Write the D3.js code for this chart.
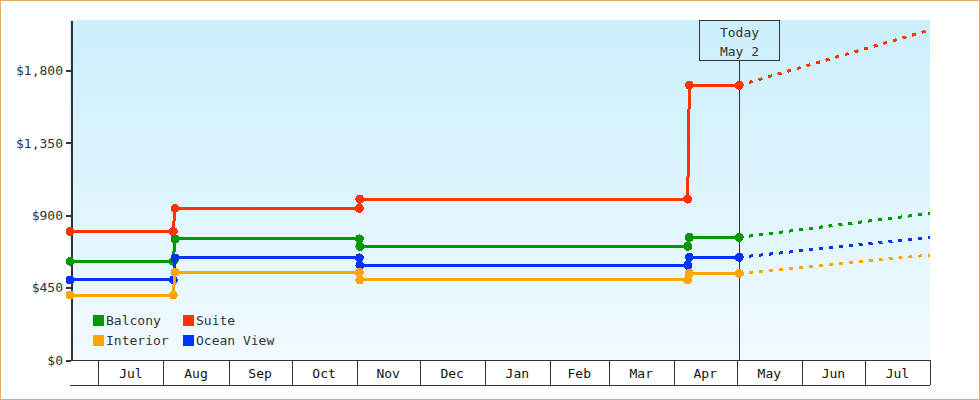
<!DOCTYPE html>
<html>
<head>
<meta charset="utf-8">
<script src="https://cdn.jsdelivr.net/npm/d3@7"></script>
<style>
  body { margin: 0; background: #fff; }
  svg { shape-rendering: crispEdges; }
  svg text { font-family: "DejaVu Sans Mono", monospace; font-size: 13px; }
</style>
</head>
<body>
<div id="chart"></div>
<script>
// price history dates (step changes drawn as two close points)
var dates = ["2022-06-17 12", "2022-08-05 16", "2022-08-06 12", "2022-11-02 06",
             "2022-11-02 13", "2023-04-07 15", "2023-04-08 10", "2023-05-02 04"];
var projectionEnd = "2023-08-01 00";
var today = "2023-05-02 04";

var seriesNames = ["Suite", "Balcony", "Ocean View", "Interior"];
var suiteValues     = [800, 800, 944, 944, 1001, 1001, 1709, 1709];
var balconyValues   = [614, 614, 753, 753, 707, 707, 763, 763];
var oceanViewValues = [498, 498, 635, 635, 589, 589, 639, 639];
var interiorValues  = [404, 404, 546, 546, 498, 498, 539, 539];
var projectedValues = [2053, 912, 763, 653];

var legendRows = [["Balcony", "Suite"], ["Interior", "Ocean View"]];
var yTicks = [0, 450, 900, 1350, 1800];

var colors = {"Suite": "#ff3300", "Balcony": "#009900", "Ocean View": "#0033ff", "Interior": "#ffa500"};

var parse = d3.timeParse("%Y-%m-%d %H");
var width = 980, height = 400;
var margin = {left: 70, right: 50, top: 20, bottom: 40};

var svg = d3.select("#chart").append("svg")
  .attr("width", width)
  .attr("height", height);

var x = d3.scaleTime()
  .domain([parse("2022-06-17 12"), parse(projectionEnd)])
  .range([margin.left, width - margin.right]);
var y = d3.scaleLinear()
  .domain([0, 2115])
  .range([height - margin.bottom, margin.top]);

//background gradient for plot area
var defs = svg.append("defs");
var grad = defs.append("linearGradient").attr("id", "bg")
  .attr("x1", 0).attr("y1", 0).attr("x2", 0).attr("y2", 1);
grad.append("stop").attr("offset", "0%").attr("stop-color", "#cbeffc");
grad.append("stop").attr("offset", "100%").attr("stop-color", "#f1faff");

svg.append("rect")
  .attr("x", x.range()[0]).attr("y", y.range()[1])
  .attr("width", x.range()[1] - x.range()[0])
  .attr("height", y.range()[0] - y.range()[1])
  .attr("fill", "url(#bg)");

//outer frame
svg.append("rect")
  .attr("x", 0.5).attr("y", 0.5)
  .attr("width", width - 1).attr("height", height - 1)
  .attr("fill", "none").attr("stroke", "#e8a86a");

//month band under the plot
var bandTop = y(0), bandBottom = bandTop + 25;
var monthStarts = d3.timeMonth.range(d3.timeMonth.ceil(x.domain()[0]), d3.timeDay.offset(x.domain()[1], 1));
var band = svg.append("g").attr("class", "months");
band.append("line")
  .attr("x1", x.range()[0]).attr("x2", x.range()[1])
  .attr("y1", bandTop + 0.5).attr("y2", bandTop + 0.5)
  .attr("stroke", "#333");
band.append("line")
  .attr("x1", x.range()[0]).attr("x2", x.range()[1])
  .attr("y1", bandBottom + 0.5).attr("y2", bandBottom + 0.5)
  .attr("stroke", "#333");
band.selectAll("line.sep").data(monthStarts).enter().append("line")
  .attr("class", "sep")
  .attr("x1", function (d) { return Math.round(x(d)) + 0.5; })
  .attr("x2", function (d) { return Math.round(x(d)) + 0.5; })
  .attr("y1", bandTop).attr("y2", bandBottom)
  .attr("stroke", "#333");
band.selectAll("text").data(monthStarts.slice(0, -1)).enter().append("text")
  .attr("x", function (d) { return (x(d) + x(d3.timeMonth.offset(d, 1))) / 2; })
  .attr("y", bandTop + 18)
  .attr("text-anchor", "middle")
  .attr("fill", "#111")
  .text(d3.timeFormat("%b"));

//y axis
var yAxis = svg.append("g")
  .attr("transform", "translate(" + (x.range()[0] + 1) + ",0)")
  .call(d3.axisLeft(y).tickValues(yTicks).tickSize(5).tickSizeOuter(0).tickPadding(3)
    .tickFormat(d3.format("$,.0f")));
yAxis.select(".domain").attr("stroke", "#333").attr("stroke-width", 2);
yAxis.selectAll(".tick line").attr("stroke", "#333").attr("stroke-width", 2);
yAxis.selectAll(".tick text")
  .attr("fill", "#333")
  .style("font-family", "DejaVu Sans Mono, monospace")
  .style("font-size", "13px");

//today marker
var tx = Math.round(x(parse(today))) + 0.5;
svg.append("line")
  .attr("x1", tx).attr("x2", tx)
  .attr("y1", 60).attr("y2", y(0))
  .attr("stroke", "#333");
svg.append("rect")
  .attr("x", tx - 40).attr("y", 20.5)
  .attr("width", 80).attr("height", 40)
  .attr("fill", "none").attr("stroke", "#333");
["Today", "May 2"].forEach(function (t, i) {
  svg.append("text")
    .attr("x", tx).attr("y", 37 + i * 18.5)
    .attr("text-anchor", "middle")
    .attr("fill", "#333")
    .text(t);
});

//series
var valuesByName = {
  "Suite": suiteValues,
  "Balcony": balconyValues,
  "Ocean View": oceanViewValues,
  "Interior": interiorValues
};
var line = d3.line()
  .x(function (d) { return x(d.date); })
  .y(function (d) { return y(d.value); });

seriesNames.forEach(function (name, i) {
  var pts = dates.map(function (d, j) {
    return {date: parse(d), value: valuesByName[name][j]};
  });
  var last = pts[pts.length - 1];
  var proj = [last, {date: parse(projectionEnd), value: projectedValues[i]}];
  var g = svg.append("g").attr("class", "series");

  g.append("path")
    .attr("d", line(proj))
    .attr("fill", "none")
    .attr("stroke", colors[name])
    .attr("stroke-width", 3)
    .attr("stroke-dasharray", "4,6");

  g.append("path")
    .attr("d", line(pts))
    .attr("fill", "none")
    .attr("stroke", colors[name])
    .attr("stroke-width", 3);

  g.selectAll("circle").data(pts).enter().append("circle")
    .attr("cx", function (d) { return x(d.date); })
    .attr("cy", function (d) { return y(d.value); })
    .attr("r", 4.5)
    .attr("fill", colors[name]);
});

//legend
var legend = svg.append("g").attr("class", "legend");
legendRows.forEach(function (row, r) {
  row.forEach(function (name, c) {
    var lx = 93 + c * 90, ly = 315 + r * 20;
    legend.append("rect")
      .attr("x", lx).attr("y", ly)
      .attr("width", 11).attr("height", 11)
      .attr("fill", colors[name]);
    legend.append("text")
      .attr("x", lx + 13).attr("y", ly + 10)
      .attr("fill", "#333")
      .text(name);
  });
});
</script>
</body>
</html>
